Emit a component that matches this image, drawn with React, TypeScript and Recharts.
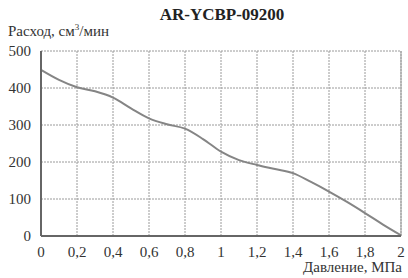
import React from "react";
import { LineChart, Line, XAxis, YAxis, CartesianGrid, ReferenceLine } from "recharts";

const pressure = [0, 0.1, 0.2, 0.3, 0.4, 0.5, 0.6, 0.7, 0.8, 0.9, 1.0, 1.1, 1.2, 1.3, 1.4, 1.5, 1.6, 1.7, 1.8, 1.9, 2.0];
const flow = [449, 422, 402, 391, 374, 345, 318, 302, 290, 262, 228, 205, 192, 181, 170, 146, 120, 92, 62, 31, 2];
const xTicks = [0, 0.2, 0.4, 0.6, 0.8, 1, 1.2, 1.4, 1.6, 1.8, 2];
const yTicks = [0, 100, 200, 300, 400, 500];

const data = pressure.map((p, i) => ({ p, q: flow[i] }));

const FONT = "Liberation Serif, DejaVu Serif, serif";

export default function App() {
  return (
    <div style={{ position: "absolute", left: 0, top: 0, width: 408, height: 278, fontFamily: FONT, background: "#fff" }}>
      <div style={{ position: "absolute", left: 0, width: 408, top: 5, paddingLeft: 36, boxSizing: "border-box", textAlign: "center", fontWeight: "bold", fontSize: 17, color: "#222" }}>
        AR-YCBP-09200
      </div>
      <div style={{ position: "absolute", left: 8, top: 23, fontSize: 15, color: "#333", whiteSpace: "nowrap" }}>
        Расход, см<sup style={{ fontSize: 9, verticalAlign: "top", position: "relative", top: -1 }}>3</sup>/мин
      </div>
      <div style={{ position: "absolute", right: 6, top: 259, fontSize: 15, color: "#333", whiteSpace: "nowrap" }}>
        Давление, МПа
      </div>
      <LineChart width={408} height={278} data={data} margin={{ top: 51, right: 7, bottom: 0, left: 0 }}>
        <CartesianGrid stroke="#9a9a9a" strokeDasharray="2 1" strokeWidth={1} />
        <XAxis
          dataKey="p"
          type="number"
          domain={[0, 2]}
          ticks={xTicks}
          tickFormatter={(v: number) => String(v).replace(".", ",")}
          tickSize={0}
          tickMargin={10}
          height={42}
          stroke="#666"
          strokeWidth={2}
          tick={{ fontSize: 15, fill: "#333", fontFamily: FONT }}
          interval={0}
        />
        <YAxis
          type="number"
          domain={[0, 500]}
          ticks={yTicks}
          tickSize={0}
          tickMargin={10}
          width={41}
          stroke="#666"
          strokeWidth={2}
          tick={{ fontSize: 15, fill: "#333", fontFamily: FONT }}
          interval={0}
        />
        <ReferenceLine x={2} stroke="#999" strokeWidth={1} />
        <Line type="monotone" dataKey="q" stroke="#858585" strokeWidth={2} dot={false} isAnimationActive={false} />
      </LineChart>
    </div>
  );
}
